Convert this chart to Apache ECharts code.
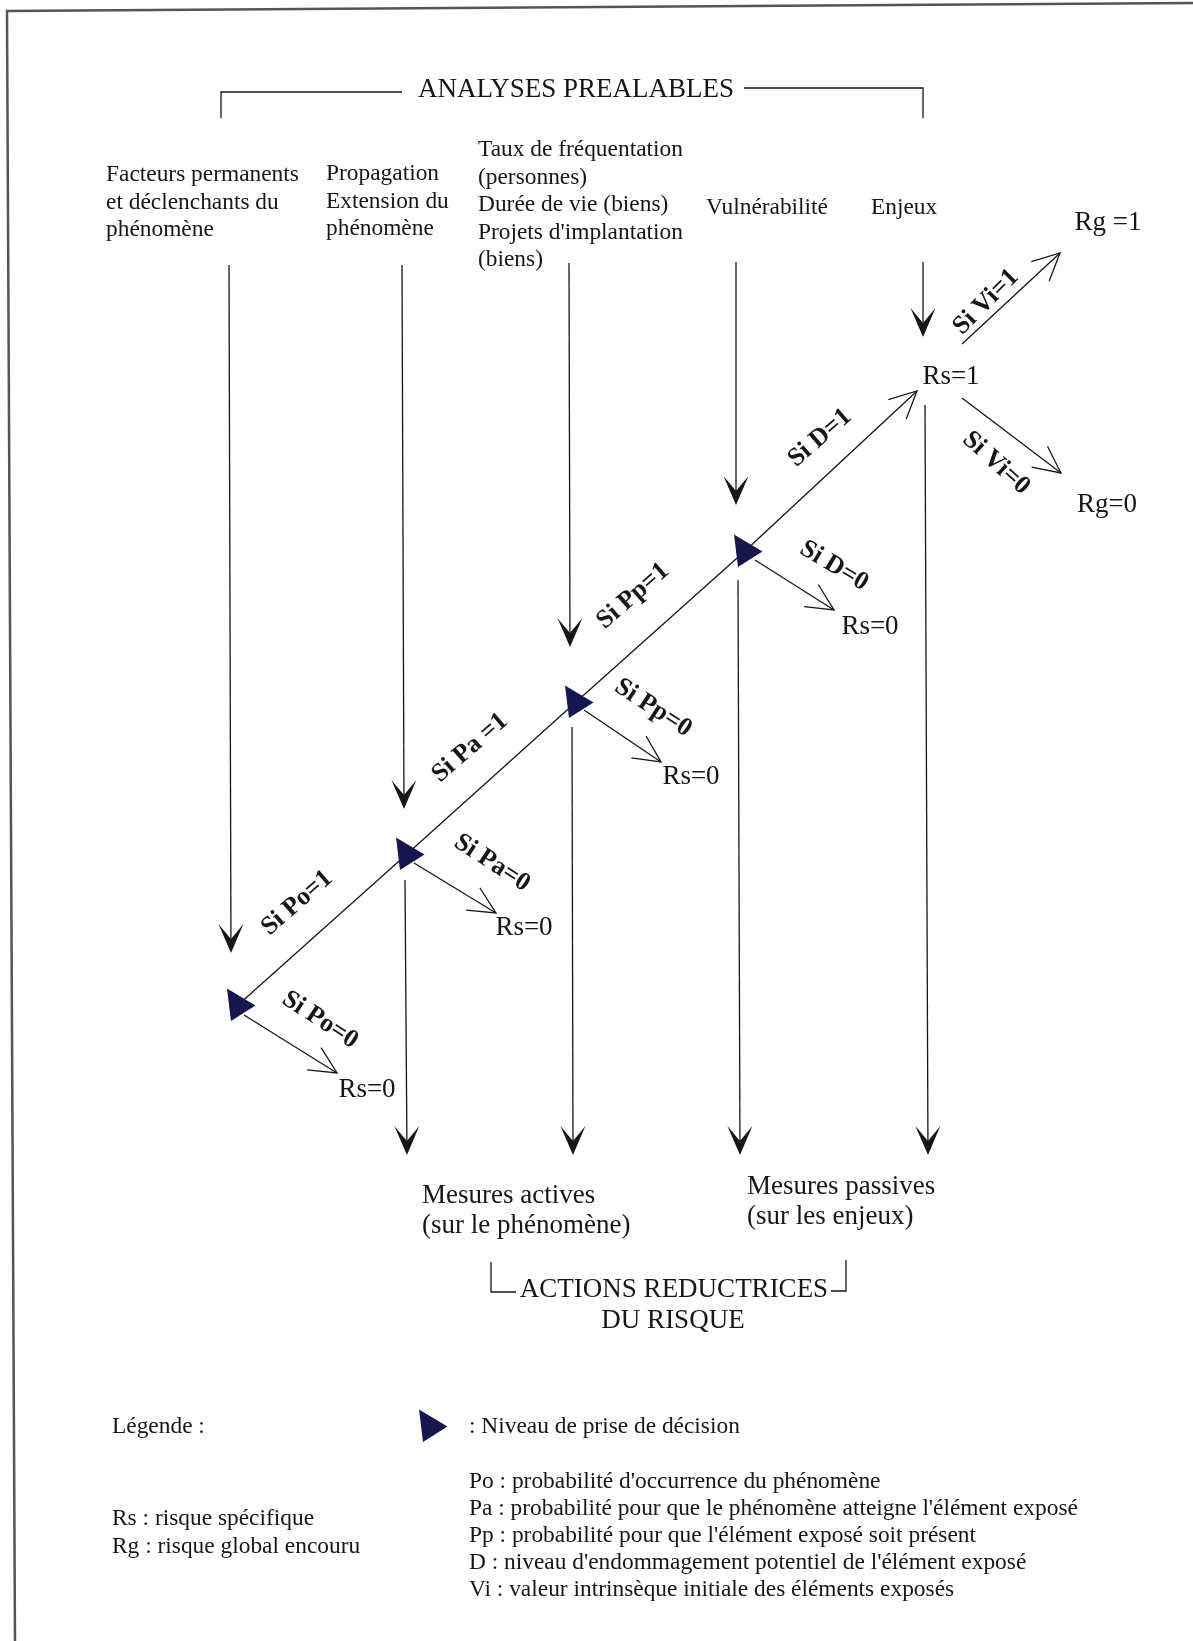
<!DOCTYPE html>
<html>
<head>
<meta charset="utf-8">
<script src="https://cdn.jsdelivr.net/npm/echarts@6/dist/echarts.min.js"></script>
<style>
html,body{margin:0;padding:0;background:#ffffff;}
#chart{width:1193px;height:1641px;}
</style>
</head>
<body>
<div id="chart"></div>
<script>
// ---------- diagram data (diagram coordinates) ----------
const topArrows = [[229,265,231,953],[402,265,404,809],[569,263,570,647],[736,262,736,505],[923,262,923,337]];
const bottomArrows = [[405,880,407,1155],[572,727,573,1155],[738,580,740,1155],[925,405,928,1155]];
const decisionNodes = [[238,1005],[407,854],[576,702],[745,551]];
const rsTip = [917,391];
const rejectArrows = [[244,1015,337,1073],[414,863,496,913],[584,710,661,762],[755,560,834,610]];
const valueArrows = [[962,344,1060,253],[962,398,1061,473]];
const bracketPaths = [
  [[221,118],[221,92],[402,92]],
  [[744,88],[923,88],[923,118]],
  [[491,1262],[491,1292],[516,1292]],
  [[831,1291],[846,1291],[846,1260]]
];
const framePath = [[15,1641],[7,11],[1193,3]];

const headerTexts = [
  ['Facteurs permanents','et déclenchants du','phénomène'],
  ['Propagation','Extension du','phénomène'],
  ['Taux de fréquentation','(personnes)','Durée de vie (biens)',"Projets d'implantation",'(biens)'],
  ['Vulnérabilité'],
  ['Enjeux']
];
const headerAt = [[106,175],[326,174],[478,150],[706,208],[871,208]];

const sectionTitles = ['ANALYSES PREALABLES','ACTIONS REDUCTRICES','DU RISQUE'];
const sectionTitleAt = [[576,90],[674,1290],[673,1321]];

const measureTexts = [['Mesures actives','(sur le phénomène)'],['Mesures passives','(sur les enjeux)']];
const measureAt = [[422,1196],[747,1187]];

const passLabels = ['Si Po=1','Si Pa =1','Si Pp=1','Si D=1','Si Vi=1'];
const passLabelAt = [[297,903],[470,748],[633,596],[820,438],[986,302]];
const passAngles = [41,41,41,41,45];
const failLabels = ['Si Po=0','Si Pa=0','Si Pp=0','Si D=0','Si Vi=0'];
const failLabelAt = [[320,1020],[492,863],[653,708],[834,566],[996,463]];
const failAngles = [-33,-33,-33,-31,-42];

const outcomeLabels = ['Rs=0','Rs=0','Rs=0','Rs=0','Rs=1','Rg =1','Rg=0'];
const outcomeAt = [[367,1090],[524,928],[691,777],[870,627],[951,377],[1108,223],[1107,505]];

const legendTitle = 'Légende :';
const legendTitleAt = [112,1427];
const legendMarkerAt = [430,1426];
const legendMarkerText = ': Niveau de prise de décision';
const legendMarkerTextAt = [469,1427];
const symbolDefs = [
  "Po : probabilité d'occurrence du phénomène",
  "Pa : probabilité pour que le phénomène atteigne l'élément exposé",
  "Pp : probabilité pour que l'élément exposé soit présent",
  "D : niveau d'endommagement potentiel de l'élément exposé",
  "Vi : valeur intrinsèque initiale des éléments exposés"
];
const symbolDefsAt = [469,1482];
const riskDefs = ['Rs : risque spécifique','Rg : risque global encouru'];
const riskDefsAt = [112,1519];

// ---------- rendering ----------
const SERIF = '"Liberation Serif", "Times New Roman", serif';
const INK = '#161616';
const NAVY = '#17174f';
const LW = 1.3;

function unit(a, b) {
  const dx = b[0]-a[0], dy = b[1]-a[1], L = Math.hypot(dx, dy);
  return [dx/L, dy/L];
}

function filledArrow(params, api) {
  const a = api.coord([api.value(0), api.value(1)]);
  const b = api.coord([api.value(2), api.value(3)]);
  const [ux, uy] = unit(a, b), nx = -uy, ny = ux;
  const notch = [b[0]-14*ux, b[1]-14*uy];
  return {type:'group', children:[
    {type:'line', shape:{x1:a[0],y1:a[1],x2:notch[0],y2:notch[1]}, style:{stroke:INK,lineWidth:LW}},
    {type:'polygon', shape:{points:[b,[b[0]-29*ux+12.5*nx,b[1]-29*uy+12.5*ny],notch,[b[0]-29*ux-12.5*nx,b[1]-29*uy-12.5*ny]]}, style:{fill:INK}}
  ]};
}

function openArrowShapes(a, b) {
  const [ux, uy] = unit(a, b);
  const ang = 26*Math.PI/180, len = 30;
  const bx = -ux, by = -uy;
  const r1 = [bx*Math.cos(ang)-by*Math.sin(ang), bx*Math.sin(ang)+by*Math.cos(ang)];
  const r2 = [bx*Math.cos(-ang)-by*Math.sin(-ang), bx*Math.sin(-ang)+by*Math.cos(-ang)];
  return [
    {type:'line', shape:{x1:a[0],y1:a[1],x2:b[0],y2:b[1]}, style:{stroke:INK,lineWidth:LW}},
    {type:'polyline', shape:{points:[[b[0]+len*r1[0],b[1]+len*r1[1]], b, [b[0]+len*r2[0],b[1]+len*r2[1]]]}, style:{stroke:INK,lineWidth:LW,fill:null}}
  ];
}

function openArrow(params, api) {
  const a = api.coord([api.value(0), api.value(1)]);
  const b = api.coord([api.value(2), api.value(3)]);
  return {type:'group', children: openArrowShapes(a, b)};
}

function triangleAt(c) {
  return {type:'polygon', shape:{points:[[c[0]-11,c[1]-16.5],[c[0]+17.5,c[1]+0.5],[c[0]-7,c[1]+16]]}, style:{fill:NAVY}};
}

function textEl(p, text, font, align, rot) {
  return {type:'text', x:p[0], y:p[1], rotation:(rot||0)*Math.PI/180,
    style:{text:text, font:font, fill:INK, textAlign:align||'left', textVerticalAlign:'middle'}};
}

const F_HEAD = '23.4px ' + SERIF;
const F_BIG = '27px ' + SERIF;
const F_BOLD = 'bold 26px ' + SERIF;

const option = {
  backgroundColor: '#ffffff',
  animation: false,
  grid: {left:0, right:0, top:0, bottom:0},
  xAxis: {type:'value', min:0, max:1193, show:false},
  yAxis: {type:'value', min:0, max:1641, inverse:true, show:false},
  series: [
    { // frame
      type:'custom', data:[0], silent:true,
      renderItem: (params, api) => ({type:'polyline', shape:{points:framePath.map(p => api.coord(p))}, style:{stroke:'#555',lineWidth:2.5,fill:null}})
    },
    { // brackets
      type:'custom', data:bracketPaths.map((_, i) => i), silent:true,
      renderItem: (params, api) => ({type:'polyline', shape:{points:bracketPaths[params.dataIndex].map(p => api.coord(p))}, style:{stroke:INK,lineWidth:LW,fill:null}})
    },
    { type:'custom', data:topArrows, silent:true, renderItem: filledArrow },
    { type:'custom', data:bottomArrows, silent:true, renderItem: filledArrow },
    { // diagonal decision path
      type:'custom', data:decisionNodes.map((_, i) => i), silent:true,
      renderItem: (params, api) => {
        const i = params.dataIndex;
        const a = api.coord(decisionNodes[i]);
        if (i < decisionNodes.length - 1) {
          const b = api.coord(decisionNodes[i+1]);
          return {type:'line', shape:{x1:a[0],y1:a[1],x2:b[0],y2:b[1]}, style:{stroke:INK,lineWidth:LW}};
        }
        return {type:'group', children: openArrowShapes(a, api.coord(rsTip))};
      }
    },
    { type:'custom', data:rejectArrows, silent:true, renderItem: openArrow },
    { type:'custom', data:valueArrows, silent:true, renderItem: openArrow },
    { // decision triangles
      type:'custom', data:decisionNodes.concat([legendMarkerAt]), silent:true,
      renderItem: (params, api) => triangleAt(api.coord([api.value(0), api.value(1)]))
    },
    { // headers
      type:'custom', data:headerAt, silent:true,
      renderItem: (params, api) => {
        const t = headerTexts[params.dataIndex];
        return {type:'group', children: t.map((s, k) => textEl(api.coord([api.value(0), api.value(1) + k*27.5]), s, F_HEAD, 'left'))};
      }
    },
    { // section titles
      type:'custom', data:sectionTitleAt, silent:true,
      renderItem: (params, api) => textEl(api.coord([api.value(0), api.value(1)]), sectionTitles[params.dataIndex], F_BIG, 'center')
    },
    { // measures
      type:'custom', data:measureAt, silent:true,
      renderItem: (params, api) => {
        const t = measureTexts[params.dataIndex];
        return {type:'group', children: t.map((s, k) => textEl(api.coord([api.value(0), api.value(1) + k*29.5]), s, F_BIG, 'left'))};
      }
    },
    { // pass labels
      type:'custom', data:passLabelAt, silent:true,
      renderItem: (params, api) => textEl(api.coord([api.value(0), api.value(1)]), passLabels[params.dataIndex], F_BOLD, 'center', passAngles[params.dataIndex])
    },
    { // fail labels
      type:'custom', data:failLabelAt, silent:true,
      renderItem: (params, api) => textEl(api.coord([api.value(0), api.value(1)]), failLabels[params.dataIndex], F_BOLD, 'center', failAngles[params.dataIndex])
    },
    { // outcomes
      type:'custom', data:outcomeAt, silent:true,
      renderItem: (params, api) => textEl(api.coord([api.value(0), api.value(1)]), outcomeLabels[params.dataIndex], F_BIG, 'center')
    },
    { // legend
      type:'custom', data:[0], silent:true,
      renderItem: (params, api) => {
        const ch = [];
        ch.push(textEl(api.coord(legendTitleAt), legendTitle, F_HEAD, 'left'));
        ch.push(textEl(api.coord(legendMarkerTextAt), legendMarkerText, F_HEAD, 'left'));
        symbolDefs.forEach((s, k) => ch.push(textEl(api.coord([symbolDefsAt[0], symbolDefsAt[1] + k*27]), s, F_HEAD, 'left')));
        riskDefs.forEach((s, k) => ch.push(textEl(api.coord([riskDefsAt[0], riskDefsAt[1] + k*28]), s, F_HEAD, 'left')));
        return {type:'group', children: ch};
      }
    }
  ]
};

const chart = echarts.init(document.getElementById('chart'), null, {renderer:'canvas', width:1193, height:1641});
chart.setOption(option);
</script>
</body>
</html>
